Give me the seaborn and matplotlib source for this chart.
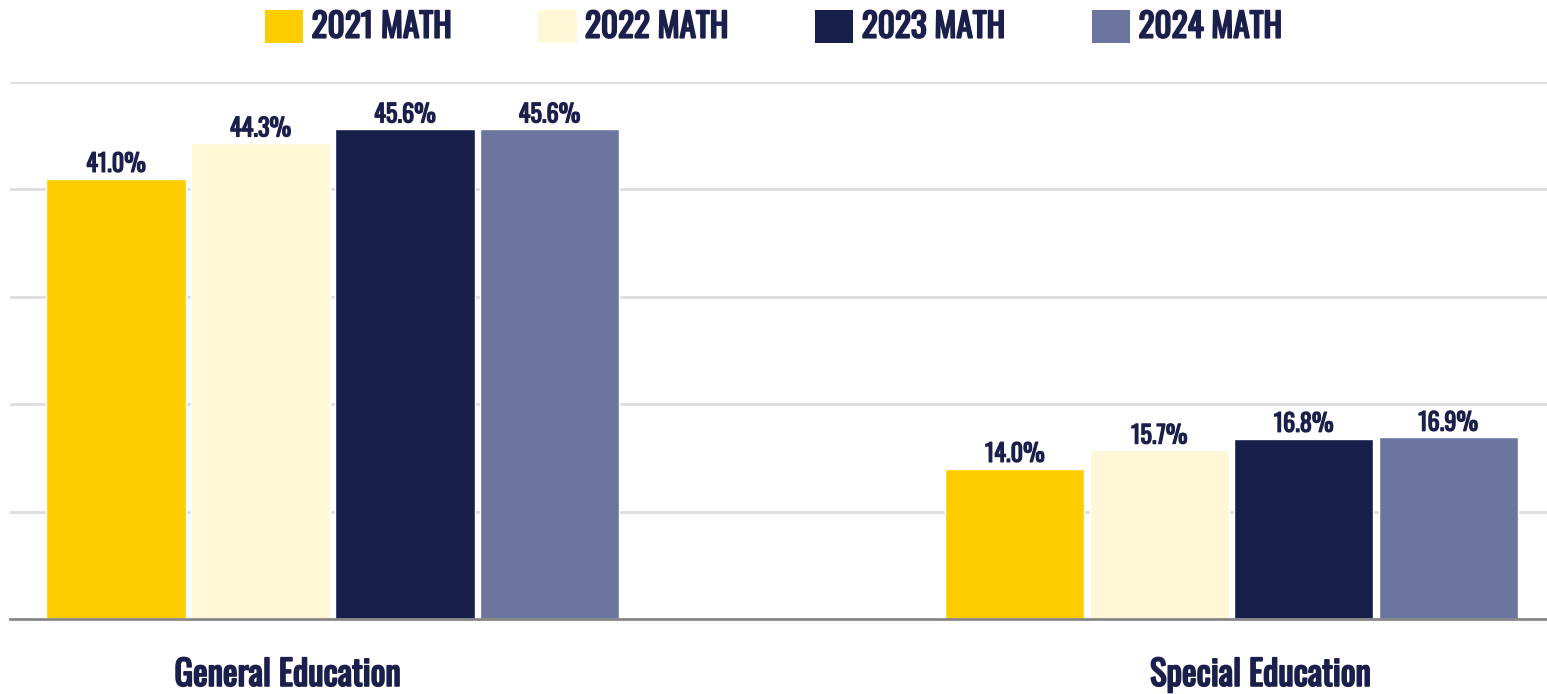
import matplotlib
matplotlib.use("Agg")
import matplotlib.pyplot as plt
import matplotlib.patches as mpatches
import matplotlib.patheffects as pe
import matplotlib.transforms as mtrans
from matplotlib import font_manager as fm
import seaborn as sns
import pandas as pd

categories = ["General Education", "Special Education"]
series = ["2021 MATH", "2022 MATH", "2023 MATH", "2024 MATH"]
values_2021 = [41.0, 14.0]
values_2022 = [44.3, 15.7]
values_2023 = [45.6, 16.8]
values_2024 = [45.6, 16.9]
colors = ["#FDCD00", "#FFF7D6", "#171F4A", "#6B75A0"]
text_color = "#1A1F4B"

rows = []
for s, vals in zip(series, [values_2021, values_2022, values_2023, values_2024]):
    for c, v in zip(categories, vals):
        rows.append({"category": c, "series": s, "value": v})
df = pd.DataFrame(rows)

# choose a condensed font
prefs = ["Oswald", "Roboto Condensed", "Open Sans Condensed", "IBM Plex Sans Condensed"]
chosen = None
for p in prefs:
    cands = [f for f in fm.fontManager.ttflist if f.name == p and f.style == "normal"]
    if cands:
        cands.sort(key=lambda f: abs((f.weight if isinstance(f.weight, int) else 400) - 700))
        chosen = cands[0]
        break

sns.set_theme(style="white")
plt.rcParams["font.family"] = ["DejaVu Sans"]


def fp(size):
    if chosen is not None:
        return fm.FontProperties(fname=chosen.fname, size=size)
    return fm.FontProperties(family="DejaVu Sans", weight="bold", stretch="condensed", size=size)


def boldify(w):
    return [pe.withStroke(linewidth=w, foreground=text_color)]


fig = plt.figure(figsize=(15.47, 6.94), dpi=100)
ax = fig.add_axes([10 / 1547, 75 / 694, 1537 / 1547, 537 / 694])

sns.barplot(data=df, x="category", y="value", hue="series", order=categories,
            hue_order=series, palette=colors, width=0.643, gap=0.035,
            ax=ax, legend=False, saturation=1)

for cont in ax.containers:
    texts = ax.bar_label(cont, labels=[f"{v:.1f}%" for v in cont.datavalues],
                         padding=2, fontproperties=fp(17.5), color=text_color)
    for t in texts:
        t.set_path_effects(boldify(0.9))

ax.set_ylim(0, 50)
ax.set_xlim(-0.359, 1.351)
ax.set_yticks([10, 20, 30, 40, 50])
ax.set_yticklabels([])
ax.tick_params(axis="y", length=0)
ax.tick_params(axis="x", length=0, pad=28, labelcolor=text_color)
label_shift_px = [-45, 29]
for lab, dx in zip(ax.get_xticklabels(), label_shift_px):
    lab.set_fontproperties(fp(25))
    lab.set_path_effects(boldify(1.3))
    lab.set_transform(lab.get_transform() + mtrans.ScaledTranslation(dx / 100, 0, fig.dpi_scale_trans))
ax.grid(axis="y", color="#DDDDDD", linewidth=2)
ax.set_axisbelow(True)
for sp in ["top", "right", "left"]:
    ax.spines[sp].set_visible(False)
ax.spines["bottom"].set_color("#888888")
ax.spines["bottom"].set_linewidth(2)
ax.set_xlabel("")
ax.set_ylabel("")

handles = [mpatches.Patch(facecolor=c, edgecolor="none", label=s) for c, s in zip(colors, series)]
leg = fig.legend(handles=handles, loc="upper center", bbox_to_anchor=(0.5, 1 - 3 / 694), ncol=4,
                 frameon=False, prop=fp(24), handlelength=1.15, handleheight=1.15,
                 handletextpad=0.25, columnspacing=2.6, borderaxespad=0.0, borderpad=0.2)
for t in leg.get_texts():
    t.set_color(text_color)
    t.set_path_effects(boldify(1.3))

fig.savefig("out.png", dpi=100)
